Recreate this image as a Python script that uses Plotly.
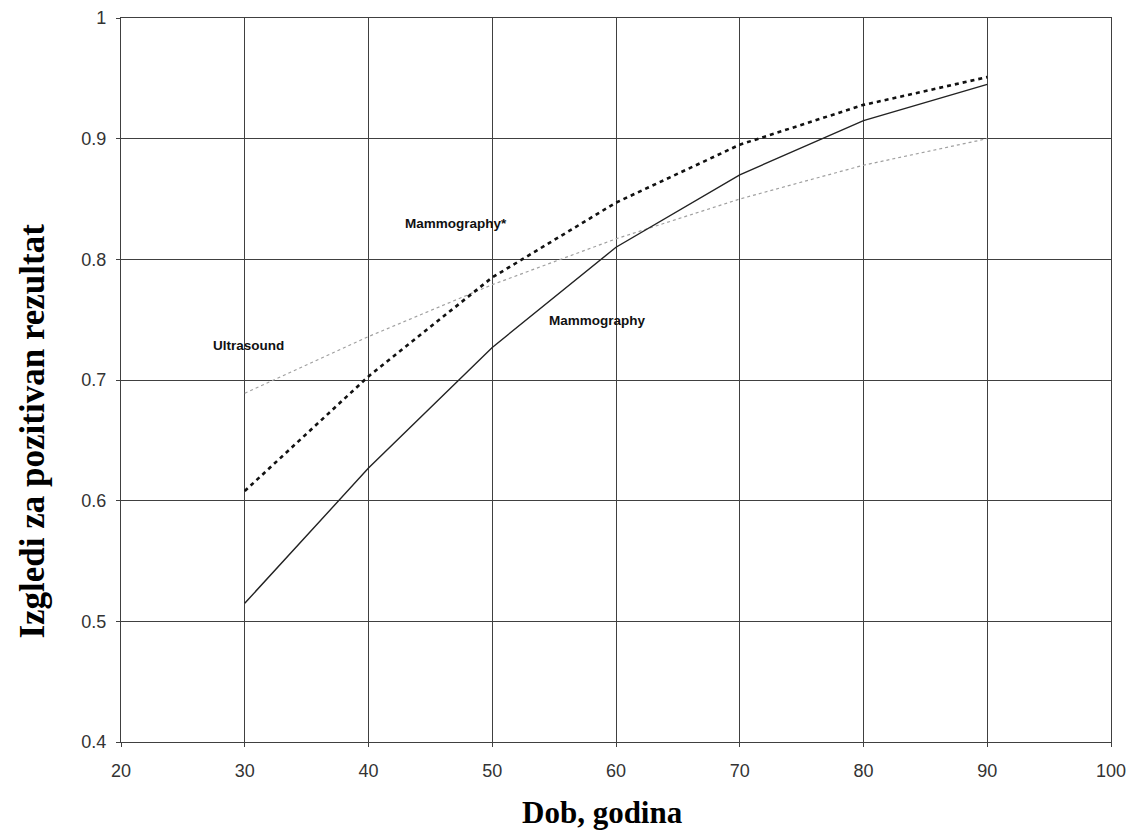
import plotly.graph_objects as go

ages = [30, 40, 50, 60, 70, 80, 90]
mammography = [0.515, 0.627, 0.727, 0.810, 0.870, 0.915, 0.945]
mammography_star = [0.608, 0.703, 0.785, 0.847, 0.895, 0.928, 0.951]
ultrasound = [0.689, 0.736, 0.779, 0.817, 0.850, 0.878, 0.900]

labels = ["Mammography*", "Ultrasound", "Mammography"]
label_x = [47.1, 30.3, 58.5]
label_y = [0.830, 0.729, 0.749]

fig = go.Figure()
fig.add_trace(go.Scatter(x=ages, y=ultrasound, mode="lines",
                         line=dict(color="#a0a0a0", width=1.2, dash="dot"), name="Ultrasound"))
fig.add_trace(go.Scatter(x=ages, y=mammography_star, mode="lines",
                         line=dict(color="#111111", width=2.6, dash="4px,4px"), name="Mammography*"))
fig.add_trace(go.Scatter(x=ages, y=mammography, mode="lines",
                         line=dict(color="#222222", width=1.4), name="Mammography"))

for t, x, y in zip(labels, label_x, label_y):
    fig.add_annotation(x=x, y=y, text="<b>" + t + "</b>", showarrow=False,
                       font=dict(family="Liberation Sans, Arial", size=13.5, color="#111"))

# axis titles (offset from plot centre as in the original)
fig.add_annotation(xref="paper", yref="paper", x=-0.089, y=0.43, textangle=-90,
                   text="<b>Izgledi za pozitivan rezultat</b>", showarrow=False,
                   xanchor="center", yanchor="middle", borderpad=0,
                   font=dict(family="Liberation Serif, Times New Roman", size=35, color="#000"))
fig.add_annotation(xref="paper", yref="paper", x=0.486, y=-0.098,
                   text="<b>Dob, godina</b>", showarrow=False,
                   xanchor="center", yanchor="middle",
                   font=dict(family="Liberation Serif, Times New Roman", size=31, color="#000"))

axis_common = dict(showgrid=True, gridcolor="#404040", gridwidth=1.3,
                   showline=True, linecolor="#404040", linewidth=1.3, mirror=True,
                   ticks="outside", ticklen=4, tickcolor="#404040", zeroline=False,
                   automargin=False,
                   tickfont=dict(family="Liberation Sans, Arial", size=18, color="#333"))

fig.update_xaxes(range=[20, 100], dtick=10, tick0=20, ticklabelstandoff=8, **axis_common)
fig.update_yaxes(range=[0.4, 1.0], dtick=0.1, tick0=0.4, ticklabelstandoff=6, **axis_common)

fig.update_layout(width=1139, height=832, showlegend=False,
                  plot_bgcolor="white", paper_bgcolor="white",
                  margin=dict(l=113, r=36, t=10, b=98))

fig.write_html("out.html")
